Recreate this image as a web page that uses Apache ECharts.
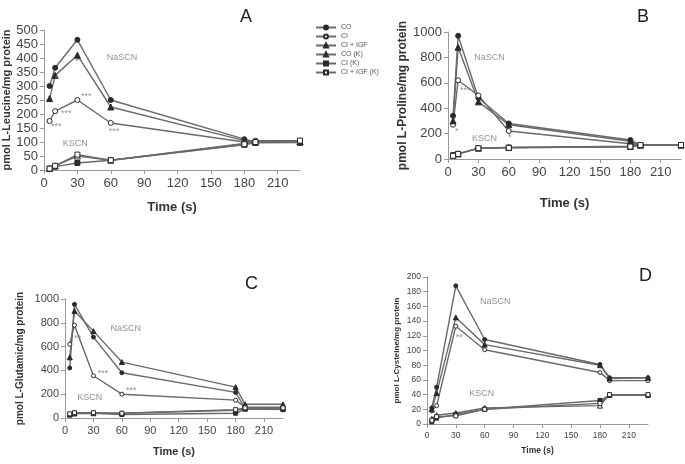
<!DOCTYPE html>
<html>
<head>
<meta charset="utf-8">
<script src="https://cdn.jsdelivr.net/npm/echarts@6/dist/echarts.min.js"></script>
<style>
  html, body { margin: 0; padding: 0; background: #fff; }
  #chart { width: 685px; height: 464px; }
</style>
</head>
<body>
<div id="chart"></div>
<script>
// time points (s)
var times = [5, 10, 30, 60, 180, 190, 230];
var seriesNames = ['CO', 'CI', 'CI + IGF', 'CO (K)', 'CI (K)', 'CI + IGF (K)'];

// panel A - L-Leucine
var leuCO = [300, 365, 465, 250, 110, 100, 100];
var leuCI = [175, 210, 250, 168, 100, 105, 105];
var leuCIIGF = [255, 338, 410, 225, 105, 100, 100];
var leuCOK = [5, 15, 50, 35, 95, 100, 100];
var leuCIK = [5, 12, 25, 35, 90, 97, 98];
var leuCIIGFK = [5, 15, 55, 35, 92, 100, 105];

// panel B - L-Proline
var proCO = [340, 970, 480, 280, 150, 110, 110];
var proCI = [270, 620, 500, 220, 120, 110, 110];
var proCIIGF = [300, 880, 450, 270, 140, 110, 110];
var proCOK = [30, 40, 85, 90, 100, 110, 110];
var proCIK = [30, 40, 85, 90, 95, 110, 110];
var proCIIGFK = [25, 40, 85, 88, 98, 110, 110];

// panel C - L-Glutamic
var gluCO = [420, 955, 680, 380, 215, 80, 80];
var gluCI = [620, 780, 355, 200, 150, 90, 90];
var gluCIIGF = [510, 900, 730, 470, 260, 115, 115];
var gluCOK = [30, 40, 40, 40, 65, 80, 80];
var gluCIK = [25, 35, 40, 30, 40, 75, 70];
var gluCIIGFK = [35, 45, 45, 40, 70, 85, 85];

// panel D - L-Cysteine
var cysCO = [22, 50, 188, 115, 81, 63, 63];
var cysCI = [18, 25, 133, 101, 70, 59, 59];
var cysCIIGF = [20, 42, 145, 108, 80, 62, 63];
var cysCOK = [7, 12, 15, 22, 25, 40, 40];
var cysCIK = [3, 8, 13, 20, 32, 39, 39];
var cysCIIGFK = [5, 10, 11, 20, 28, 40, 40];

// text notes [time, value, text]
var notesA = [[70, 403, 'NaSCN'], [28, 93, 'KSCN'], [11.5, 325, '*'], [30, 386, '*'], [38, 261, '***'], [20, 200, '***'], [11, 157, '***'], [63, 139, '***']];
var notesB = [[41, 803, 'NaSCN'], [36, 165, 'KSCN'], [8.6, 220, '*'], [17, 543, '***'], [61, 173, '*']];
var notesC = [[64, 756, 'NaSCN'], [26, 168, 'KSCN'], [13.5, 672, '**'], [40, 370, '***'], [70, 227, '***']];
var notesD = [[71, 167, 'NaSCN'], [57, 41, 'KSCN'], [33.5, 117, '**']];

var symbols = ['circle', 'circle', 'triangle', 'triangle', 'rect', 'rect'];
var filled = [true, false, true, false, true, false];

var panels = [
  {grid: {left: 44, top: 30, width: 256, height: 140}, ymax: 500, yint: 50, data: [leuCO, leuCI, leuCIIGF, leuCOK, leuCIK, leuCIIGFK],
   yname: 'pmol L-Leucine/mg protein', ynameSize: 11, yGap: 30, xGap: 31, font: 13, notes: notesA, noteSize: 9, sym: 5},
  {grid: {left: 448, top: 32, width: 233, height: 127}, ymax: 1000, yint: 200, data: [proCO, proCI, proCIIGF, proCOK, proCIK, proCIIGFK],
   yname: 'pmol L-Proline/mg protein', ynameSize: 12, yGap: 38, xGap: 38, font: 13, notes: notesB, noteSize: 9, sym: 5},
  {grid: {left: 65, top: 299, width: 218, height: 119}, ymax: 1000, yint: 200, data: [gluCO, gluCI, gluCIIGF, gluCOK, gluCIK, gluCIIGFK],
   yname: 'pmol L-Glutamic/mg protein', ynameSize: 10, yGap: 40, xGap: 28, font: 11, notes: notesC, noteSize: 9, sym: 4},
  {grid: {left: 427, top: 277, width: 221, height: 147}, ymax: 200, yint: 20, data: [cysCO, cysCI, cysCIIGF, cysCOK, cysCIK, cysCIIGFK],
   yname: 'pmol L-Cysteine/mg protein', ynameSize: 8, yGap: 26, xGap: 22, font: 8.5, notes: notesD, noteSize: 9, sym: 4}
];

var grids = [], xAxes = [], yAxes = [], series = [];
panels.forEach(function (p, i) {
  grids.push(p.grid);
  xAxes.push({
    type: 'value', gridIndex: i, min: 0, max: 230, interval: 30,
    name: 'Time (s)', nameLocation: 'middle', nameGap: p.xGap,
    nameTextStyle: {fontWeight: 'bold', fontSize: p.font, color: '#333', fontFamily: 'Liberation Sans'},
    axisLine: {lineStyle: {color: '#999'}},
    axisTick: {show: true, length: 4, lineStyle: {color: '#999'}},
    axisLabel: {showMaxLabel: false, fontSize: p.font, color: '#444', fontFamily: 'Liberation Sans', margin: 7},
    splitLine: {show: false}
  });
  yAxes.push({
    type: 'value', gridIndex: i, min: 0, max: p.ymax, interval: p.yint,
    name: p.yname, nameLocation: 'middle', nameGap: p.yGap,
    nameTextStyle: {fontWeight: 'bold', fontSize: p.ynameSize, color: '#333', fontFamily: 'Liberation Sans'},
    axisLine: {show: true, lineStyle: {color: '#999'}},
    axisTick: {show: true, length: 4, lineStyle: {color: '#999'}},
    axisLabel: {fontSize: p.font, color: '#444', fontFamily: 'Liberation Sans', margin: 6,
      formatter: function (v) { return String(v); }},
    splitLine: {show: false}
  });
  p.data.forEach(function (vals, k) {
    series.push({
      name: seriesNames[k], type: 'line', xAxisIndex: i, yAxisIndex: i,
      data: times.map(function (t, j) { return [t, vals[j]]; }),
      symbol: symbols[k], symbolSize: symbols[k] === 'triangle' ? p.sym + 1 : p.sym,
      showAllSymbol: true,
      lineStyle: {color: '#6a6a6a', width: 1.4},
      itemStyle: {color: filled[k] ? '#2a2a2a' : '#fff', borderColor: '#2a2a2a', borderWidth: 1},
      z: 3
    });
  });
  series.push({
    type: 'scatter', xAxisIndex: i, yAxisIndex: i, symbolSize: 0, silent: true,
    data: p.notes.map(function (n) { return {value: [n[0], n[1]], name: n[2]}; }),
    label: {show: true, position: 'inside', formatter: '{b}', color: '#777', fontSize: p.noteSize, fontFamily: 'Liberation Sans'},
    z: 5
  });
});

var letters = [['A', 247, 18], ['B', 644, 18], ['C', 252, 285], ['D', 646, 277]];

var myChart = echarts.init(document.getElementById('chart'));
myChart.setOption({
  animation: false,
  backgroundColor: '#fff',
  grid: grids,
  xAxis: xAxes,
  yAxis: yAxes,
  legend: {
    data: seriesNames, orient: 'vertical', left: 310, top: 19,
    itemGap: 2, itemWidth: 20, itemHeight: 5,
    textStyle: {fontSize: 7, color: '#555', fontFamily: 'Liberation Sans'}
  },
  graphic: letters.map(function (l) {
    return {type: 'text', left: l[1] - 7, top: l[2] - 10,
      style: {text: l[0], fontSize: 18, fill: '#222', fontFamily: 'Liberation Sans'}};
  }),
  series: series
});
</script>
</body>
</html>
